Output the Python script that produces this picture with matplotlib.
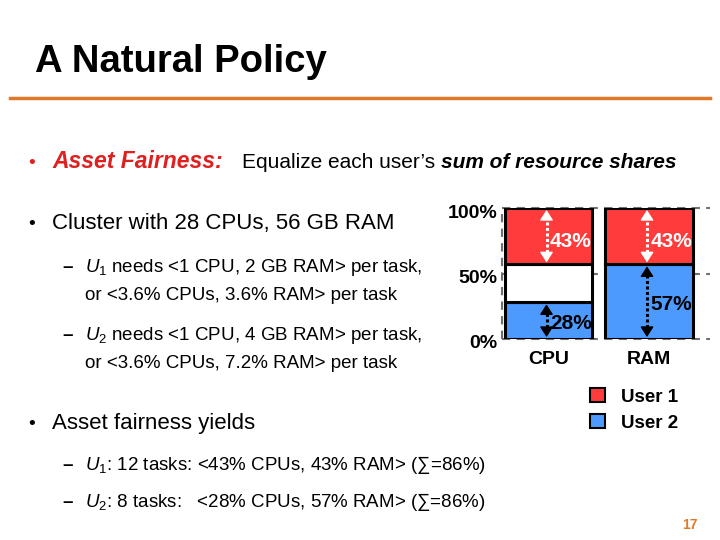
import numpy as np
import matplotlib
matplotlib.use("Agg")
import matplotlib.pyplot as plt
import matplotlib.transforms as mt
from matplotlib.patches import Patch

plt.rcParams['font.family'] = ['Liberation Sans', 'DejaVu Sans']
plt.rcParams['mathtext.fontset'] = 'custom'
plt.rcParams['mathtext.rm'] = 'Liberation Sans'
plt.rcParams['mathtext.it'] = 'Liberation Sans:italic'

# data
resources = ["CPU", "RAM"]
user1 = [43, 43]   # % share, drawn on top
user2 = [28, 57]   # % share, drawn from bottom
yticks = [0, 50, 100]
users = ["User 1", "User 2"]

red = "#FF3B3B"
blue = "#4D9AFF"
orange = "#E07A2A"

W, H = 720, 540
fig = plt.figure(figsize=(7.2, 5.4), dpi=100)

def fx(x):
    return x / W

def fy(y):
    return 1 - y / H

# title + rule
fig.text(fx(35), fy(62), "A Natural Policy", fontsize=27.5, fontweight="bold",
         va="center")
fig.add_artist(plt.Line2D([fx(10), fx(710)], [fy(98), fy(98)], color=orange, lw=2.5))

# bullet text
fig.text(fx(28), fy(168), "\u2022", fontsize=14, color="#E02020")
fig.text(fx(52), fy(168), "Asset Fairness:", fontsize=16.5, color="#E02020",
         fontweight="bold", style="italic")
fig.text(fx(242), fy(168), "Equalize each user\u2019s", fontsize=15)
fig.text(fx(441), fy(168), "sum of resource shares", fontsize=15,
         fontweight="bold", style="italic")

fig.text(fx(28), fy(229), "\u2022", fontsize=14)
fig.text(fx(52), fy(229), "Cluster with 28 CPUs, 56 GB RAM", fontsize=16)

sub = 13.5
fig.text(fx(62), fy(272), "\u2013", fontsize=sub, fontweight="bold")
fig.text(fx(85), fy(272), "$U_1$ needs <1 CPU, 2 GB RAM> per task,", fontsize=sub)
fig.text(fx(85), fy(300), "or <3.6% CPUs, 3.6% RAM> per task", fontsize=sub)
fig.text(fx(62), fy(340), "\u2013", fontsize=sub, fontweight="bold")
fig.text(fx(85), fy(340), "$U_2$ needs <1 CPU, 4 GB RAM> per task,", fontsize=sub)
fig.text(fx(85), fy(368), "or <3.6% CPUs, 7.2% RAM> per task", fontsize=sub)

fig.text(fx(28), fy(429), "\u2022", fontsize=14)
fig.text(fx(52), fy(429), "Asset fairness yields", fontsize=16)
fig.text(fx(62), fy(470), "\u2013", fontsize=sub, fontweight="bold")
fig.text(fx(85), fy(470), "$U_1$: 12 tasks: <43% CPUs, 43% RAM> (\u2211=86%)", fontsize=sub)
fig.text(fx(62), fy(507), "\u2013", fontsize=sub, fontweight="bold")
fig.text(fx(85), fy(507), "$U_2$: 8 tasks:   <28% CPUs, 57% RAM> (\u2211=86%)", fontsize=sub)

fig.text(fx(690), fy(525), "17", fontsize=10, color=orange, fontweight="bold",
         ha="center", va="center")

# chart
ax = fig.add_axes([fx(502), fy(339), fx(208), 131 / H])
x = np.arange(len(resources))
bw = 0.87
u1 = np.array(user1)
u2 = np.array(user2)
ax.set_xlim(-0.463, 1.607)
ax.set_ylim(0, 100)

for v in yticks:
    ax.axhline(v, color="#707070", ls=(0, (4, 3)), lw=1.5, zorder=0, clip_on=False)
ax.plot([-0.463, -0.463], [0, 100], color="#707070", ls=(0, (4, 3)), lw=1.5,
        zorder=0, clip_on=False)

ax.bar(x, u2, bw, color=blue, edgecolor="black", lw=2.2, zorder=2)
gap = 100 - u1 - u2
ax.bar(x, gap, bw, bottom=u2, color="white", edgecolor="black", lw=2.2, zorder=2)
ax.bar(x, u1, bw, bottom=100 - u1, color=red, edgecolor="black", lw=2.2, zorder=2)

def darrow(xa, y0, y1, col):
    ax.plot([xa, xa], [y0 + 3, y1 - 3], color=col, ls=(0, (1, 0.8)), lw=2.2, zorder=3)
    for a, b in [(y0, y0 + 4), (y1, y1 - 4)]:
        ax.annotate("", xy=(xa, a), xytext=(xa, b),
                    arrowprops=dict(arrowstyle="-|>,head_length=0.7,head_width=0.45",
                                    color=col, lw=1, mutation_scale=9,
                                    shrinkA=0, shrinkB=0), zorder=4)

for i in range(len(resources)):
    xa = x[i] - 0.02
    darrow(xa, 100 - u1[i] + 1.5, 98.5, "white")
    ax.text(xa + 0.035, 100 - u1[i] / 2 - 4, f"{u1[i]}%", color="white",
            fontsize=15, fontweight="bold", va="center", zorder=5)
    darrow(xa, 1.5, u2[i] - 1.5, "black")
    ax.text(xa + 0.035, u2[i] / 2 - 2.5, f"{u2[i]}%", color="black",
            fontsize=15, fontweight="bold", va="center", zorder=5)

ax.set_yticks(yticks)
ax.set_yticklabels([f"{v}%" for v in yticks], fontsize=14, fontweight="bold")
ax.tick_params(axis="y", length=0, pad=3)
off = mt.ScaledTranslation(0, -3 / 100, fig.dpi_scale_trans)
for lab in ax.get_yticklabels():
    lab.set_transform(lab.get_transform() + off)
ax.set_xticks(x)
ax.set_xticklabels(resources, fontsize=14, fontweight="bold")
ax.tick_params(axis="x", length=0, pad=9)
for s in ax.spines.values():
    s.set_visible(False)

handles = [Patch(facecolor=red, edgecolor="black", lw=1.5),
           Patch(facecolor=blue, edgecolor="black", lw=1.5)]
fig.legend(handles, users, loc="upper left", bbox_to_anchor=(fx(590), fy(388)),
           frameon=False, prop=dict(size=13.5, weight="bold"), handlelength=0.8,
           handleheight=0.8, handletextpad=0.85, labelspacing=0.45, borderpad=0,
           borderaxespad=0)

fig.savefig("out.png", dpi=100)
